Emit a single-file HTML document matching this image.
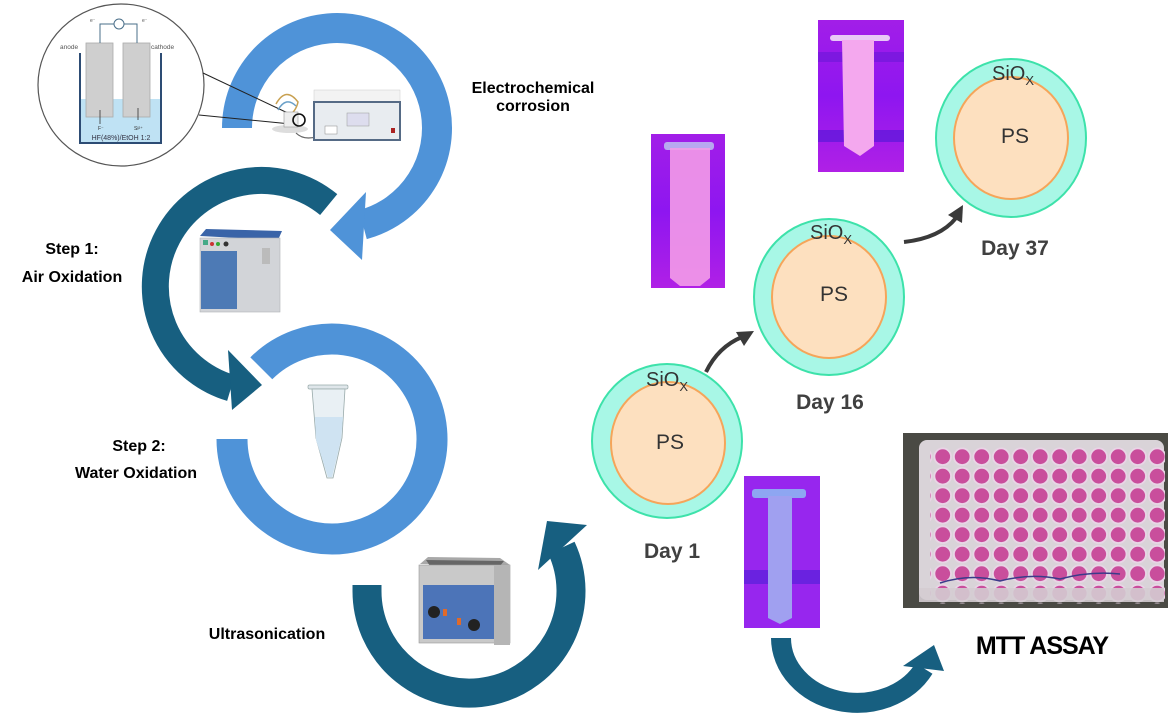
<!DOCTYPE html>
<html><head><meta charset="utf-8"><style>
html,body{margin:0;padding:0;background:#fff;}
svg{display:block;font-family:"Liberation Sans",Arial,sans-serif;}
</style></head><body>
<svg width="1169" height="716" viewBox="0 0 1169 716" xmlns="http://www.w3.org/2000/svg">
<defs>
<linearGradient id="pur" x1="0" y1="0" x2="0" y2="1">
<stop offset="0" stop-color="#a21ee8"/><stop offset="0.5" stop-color="#8e16f0"/><stop offset="1" stop-color="#b020e6"/></linearGradient>
<pattern id="wells" x="933" y="447" width="19.5" height="19.5" patternUnits="userSpaceOnUse">
<circle cx="9.7" cy="9.7" r="8.3" fill="#c94e9c" stroke="#e9d4e6" stroke-width="1.8"/>
</pattern>
</defs>

<path d="M237,128 A100,100 0 1 1 362.9,224.6" fill="none" stroke="#4f93d8" stroke-width="30"/>
<polygon points="330,230 366,192 362,260" fill="#4f93d8"/>
<path d="M328.7,204.6 A106,106 0 1 0 231,388" fill="none" stroke="#175f80" stroke-width="27"/>
<polygon points="262,385 228,350 232,410" fill="#175f80"/>
<path d="M232,439 A100,100 0 1 0 261.3,368.3" fill="none" stroke="#4f93d8" stroke-width="31"/>
<path d="M367,585 L367,591 A102,102 0 1 0 561.4,547.9" fill="none" stroke="#175f80" stroke-width="29"/>
<polygon points="547,521 587,525 538,570" fill="#175f80"/>
<path d="M781,638 A76,65 0 0 0 924,668.5" fill="none" stroke="#175f80" stroke-width="20"/>
<polygon points="934,645 944,671 903,666" fill="#175f80"/>

<ellipse cx="121" cy="85" rx="83" ry="81" fill="#fff" stroke="#555" stroke-width="1.2"/>
<rect x="80" y="99" width="81" height="44" fill="#bfe2f4"/>
<path d="M80,53 L80,143 L161,143 L161,53" fill="none" stroke="#2d4c74" stroke-width="2"/>
<rect x="86" y="43" width="27" height="74" fill="#cfcfcf" stroke="#aaa" stroke-width="0.8"/>
<rect x="123" y="43" width="27" height="74" fill="#cfcfcf" stroke="#aaa" stroke-width="0.8"/>
<path d="M100,43 L100,24 L114,24 M124,24 L137,24 L137,43" fill="none" stroke="#4a6f8a" stroke-width="1"/>
<circle cx="119" cy="24" r="5" fill="#fff" stroke="#4a6f8a" stroke-width="1"/>
<text x="60" y="49" font-size="6.5" fill="#555">anode</text>
<text x="151" y="49" font-size="6.5" fill="#555">cathode</text>
<text x="90" y="22" font-size="5" fill="#555">e⁻</text><text x="142" y="22" font-size="5" fill="#555">e⁻</text>
<path d="M100,124 L100,110 M138,108 L138,120" stroke="#333" stroke-width="0.8"/>
<text x="98" y="130" font-size="5" fill="#333">F⁻</text><text x="134" y="130" font-size="5" fill="#333">Si²⁺</text>
<text x="121" y="140" font-size="7" fill="#334" text-anchor="middle">HF(48%)/EtOH 1:2</text>
<line x1="203" y1="73" x2="292" y2="115" stroke="#222" stroke-width="1"/>
<line x1="199" y1="115" x2="291" y2="124" stroke="#222" stroke-width="1"/>
<path d="M276,104 q10,-18 22,-2 q-2,10 -12,16" fill="none" stroke="#c8a050" stroke-width="1.5"/>
<path d="M278,110 q8,-14 18,-4" fill="none" stroke="#6aa0c8" stroke-width="1.5"/>
<ellipse cx="290" cy="129" rx="18" ry="4" fill="#ddd"/>
<rect x="284" y="112" width="14" height="15" fill="#eee" stroke="#999" stroke-width="0.6"/>
<circle cx="299" cy="120" r="6" fill="none" stroke="#111" stroke-width="1.6"/>
<path d="M296,133 q10,10 30,0" fill="none" stroke="#666" stroke-width="1.2"/>
<rect x="314" y="90" width="86" height="12" fill="#f3f3f3" stroke="#ccc" stroke-width="0.5"/>
<rect x="314" y="102" width="86" height="38" fill="#e8ecf0" stroke="#556a85" stroke-width="2"/>
<rect x="347" y="113" width="22" height="13" fill="#dde" stroke="#999" stroke-width="0.5"/>
<rect x="325" y="126" width="12" height="8" fill="#fff" stroke="#888" stroke-width="0.5"/>
<rect x="391" y="128" width="4" height="5" fill="#a22"/>

<path d="M200,236 L206,229 L282,231 L278,240 Z" fill="#3a64a8"/>
<rect x="200" y="238" width="80" height="74" fill="#d2d4d8" stroke="#b0b2b6" stroke-width="0.6"/>
<rect x="201" y="251" width="36" height="58" fill="#4d7ab5"/>
<rect x="262" y="248" width="8" height="16" fill="#bbb"/>
<circle cx="212" cy="244" r="2" fill="#c33"/><circle cx="218" cy="244" r="2" fill="#3a3"/><circle cx="226" cy="244" r="2.5" fill="#333"/>
<rect x="203" y="240" width="5" height="5" fill="#4a8"/>

<rect x="308" y="385" width="40" height="4" rx="1.5" fill="#dfe6ea" stroke="#9aa" stroke-width="0.7"/>
<path d="M312,389 L345,389 L342,438 L333,478 L327,478 L316,438 Z" fill="#e9f0f4" stroke="#9aa" stroke-width="0.8"/>
<path d="M315,417 L343,417 L341,440 L332,477 L328,477 L316,440 Z" fill="#cfe3f2"/>

<!-- ultrasonic bath -->
<path d="M420,564 L428,557 L500,558 L510,565 Z" fill="#a8a8a8"/>
<path d="M426,560 L504,561 L500,566 L430,566 Z" fill="#666"/>
<rect x="419" y="565" width="91" height="78" fill="#c9c9c9" stroke="#999" stroke-width="0.6"/>
<rect x="494" y="565" width="16" height="80" fill="#b5b5b5"/>
<rect x="423" y="585" width="71" height="54" fill="#4c74b8"/>
<circle cx="434" cy="612" r="6" fill="#222"/><circle cx="474" cy="625" r="6" fill="#222"/>
<rect x="443" y="609" width="4" height="7" fill="#e06a2a"/><rect x="457" y="618" width="4" height="7" fill="#e06a2a"/>

<rect x="651" y="134" width="74" height="154" fill="url(#pur)"/>
<rect x="664" y="142" width="50" height="8" rx="3" fill="#b8a8f0"/>
<path d="M670,148 L710,148 L710,278 L700,286 L680,286 L670,278 Z" fill="#f39be8" opacity="0.9"/>
<rect x="818" y="20" width="86" height="152" fill="url(#pur)"/>
<rect x="818" y="52" width="86" height="10" fill="#6a18d8" opacity="0.6"/>
<rect x="818" y="130" width="86" height="12" fill="#5a18d8" opacity="0.7"/>
<rect x="830" y="35" width="60" height="6" rx="3" fill="#e8c8f6"/>
<path d="M842,40 L874,40 L874,146 L860,156 L844,146 Z" fill="#f4a8ee"/>
<rect x="744" y="476" width="76" height="152" fill="#9726ee"/>
<rect x="744" y="570" width="76" height="14" fill="#6a22e0"/>
<rect x="752" y="489" width="54" height="9" rx="3" fill="#8ea6f2"/>
<path d="M768,496 L792,496 L792,618 L780,624 L768,618 Z" fill="#a0a0f0"/>

<rect x="903" y="433" width="265" height="175" fill="#4a4a44"/>
<rect x="919" y="440" width="245" height="160" rx="8" fill="#d9d3d8"/>
<rect x="930" y="447" width="235" height="157" fill="url(#wells)"/>
<rect x="919" y="588" width="245" height="14" fill="#d4ccd2" opacity="0.9"/>
<path d="M940,583 q30,-10 60,-2 q30,-8 60,-2 q30,-8 60,-5" fill="none" stroke="#3b3b8a" stroke-width="1.5"/>

<path d="M706,372 Q718,347 742,337" fill="none" stroke="#3a3a3a" stroke-width="4"/>
<polygon points="754,331 736,332 744,346" fill="#3a3a3a"/>
<path d="M904,242 Q940,238 956,218" fill="none" stroke="#3a3a3a" stroke-width="4"/>
<polygon points="963,205 948,215 962,223" fill="#3a3a3a"/>

<ellipse cx="667" cy="441" rx="75" ry="77" fill="#a8f7e6" stroke="#3de2aa" stroke-width="2"/>
<ellipse cx="668" cy="443" rx="57" ry="61" fill="#fde0bf" stroke="#f5a55a" stroke-width="2"/>
<ellipse cx="829" cy="297" rx="75" ry="78" fill="#a8f7e6" stroke="#3de2aa" stroke-width="2"/>
<ellipse cx="829" cy="297" rx="57" ry="61" fill="#fde0bf" stroke="#f5a55a" stroke-width="2"/>
<ellipse cx="1011" cy="138" rx="75" ry="79" fill="#a8f7e6" stroke="#3de2aa" stroke-width="2"/>
<ellipse cx="1011" cy="138" rx="57" ry="61" fill="#fde0bf" stroke="#f5a55a" stroke-width="2"/>
<g fill="#333" font-size="20">
<text x="646" y="386">SiO<tspan font-size="13" dy="5">X</tspan></text>
<text x="810" y="239">SiO<tspan font-size="13" dy="5">X</tspan></text>
<text x="992" y="80">SiO<tspan font-size="13" dy="5">X</tspan></text>
<text x="670" y="449" text-anchor="middle" font-size="21">PS</text>
<text x="834" y="301" text-anchor="middle" font-size="21">PS</text>
<text x="1015" y="143" text-anchor="middle" font-size="21">PS</text>
</g>
<g font-weight="bold" fill="#404040" font-size="21" text-anchor="middle">
<text x="672" y="558">Day  1</text>
<text x="830" y="409">Day  16</text>
<text x="1015" y="255">Day  37</text>
</g>
<g font-weight="bold" fill="#000" font-size="16" text-anchor="middle">
<text x="533" y="93">Electrochemical</text>
<text x="533" y="111">corrosion</text>
<text x="72" y="254">Step 1:</text>
<text x="72" y="282">Air Oxidation</text>
<text x="139" y="451">Step 2:</text>
<text x="136" y="478">Water Oxidation</text>
<text x="267" y="639">Ultrasonication</text>
</g>
<text x="1042" y="654" font-weight="bold" font-size="25" text-anchor="middle" letter-spacing="-1" fill="#000">MTT ASSAY</text>
</svg>
</body></html>
